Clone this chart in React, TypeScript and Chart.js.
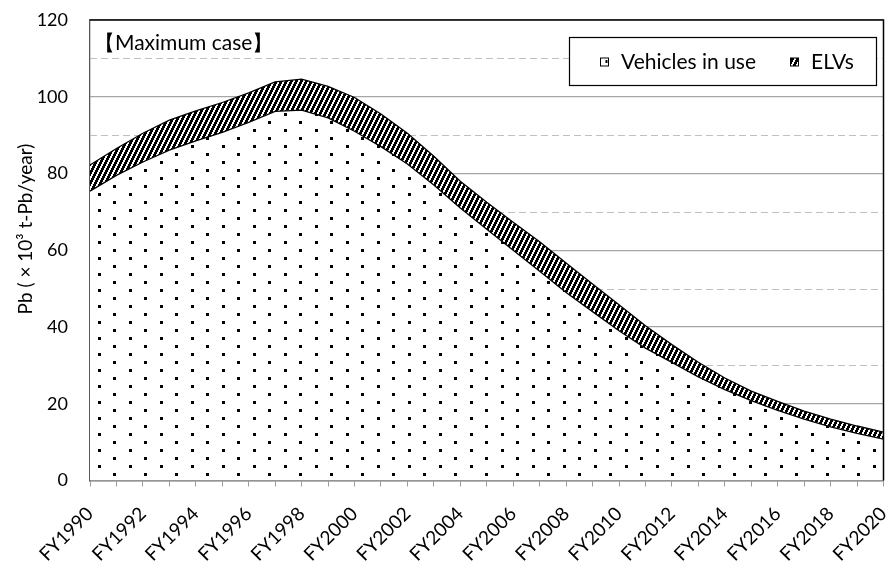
import React, { useEffect, useRef } from 'react';
import { Chart, registerables } from 'chart.js';

Chart.register(...registerables);

const years = [1990, 1991, 1992, 1993, 1994, 1995, 1996, 1997, 1998, 1999, 2000, 2001, 2002, 2003, 2004, 2005, 2006, 2007, 2008, 2009, 2010, 2011, 2012, 2013, 2014, 2015, 2016, 2017, 2018, 2019, 2020];
const categories = years.map((y) => 'FY' + y);

const vehiclesInUse = [75.4, 79.5, 83.0, 86.1, 88.5, 90.7, 93.3, 96.2, 96.5, 94.5, 91.0, 87.0, 82.5, 77.0, 71.0, 65.5, 60.0, 54.5, 49.0, 44.0, 39.0, 34.5, 30.8, 27.0, 23.7, 20.8, 18.3, 16.0, 14.0, 12.3, 10.8];
const elvs = [6.8, 7.0, 7.5, 7.8, 7.8, 7.8, 7.7, 7.7, 8.1, 8.2, 8.8, 8.5, 8.0, 7.5, 7.0, 7.0, 7.3, 7.7, 7.7, 7.2, 6.8, 5.8, 4.6, 3.8, 3.0, 2.5, 2.3, 2.1, 2.0, 1.9, 1.8];

const seriesNames = ['Vehicles in use', 'ELVs'];
const chartTitle = '【Maximum case】';
const yAxisTitle = 'Pb ( × 10³ t-Pb/year)';
const yMin = 0;
const yMax = 120;
const dashedGridValues = [10, 30, 50, 70, 90, 110];

const FONT = 'Lato, "Noto Sans", sans-serif';

function makeDots(): CanvasPattern {
  const c = document.createElement('canvas');
  c.width = 31;
  c.height = 16;
  const x = c.getContext('2d')!;
  x.fillStyle = '#ffffff';
  x.fillRect(0, 0, 31, 16);
  x.fillStyle = '#000000';
  x.fillRect(5, 1, 3, 3);
  x.fillRect(20, 9, 3, 3);
  return x.createPattern(c, 'repeat')!;
}

function makeHatch(): CanvasPattern {
  const c = document.createElement('canvas');
  c.width = 5;
  c.height = 10;
  const x = c.getContext('2d')!;
  const img = x.createImageData(5, 10);
  for (let py = 0; py < 10; py++) {
    for (let px = 0; px < 5; px++) {
      const i = (py * 5 + px) * 4;
      const black = (2 * px + py) % 10 < 6;
      const v = black ? 0 : 255;
      img.data[i] = v;
      img.data[i + 1] = v;
      img.data[i + 2] = v;
      img.data[i + 3] = 255;
    }
  }
  x.putImageData(img, 0, 0);
  return x.createPattern(c, 'repeat')!;
}

const decorPlugin = {
  id: 'decor',
  beforeDatasetsDraw(chart: any) {
    const { ctx, chartArea } = chart;
    const y = chart.scales.y;
    ctx.save();
    ctx.strokeStyle = '#bfbfbf';
    ctx.lineWidth = 1;
    ctx.setLineDash([7, 4]);
    for (const v of dashedGridValues) {
      const py = Math.round(y.getPixelForValue(v)) + 0.5;
      ctx.beginPath();
      ctx.moveTo(chartArea.left, py);
      ctx.lineTo(chartArea.right, py);
      ctx.stroke();
    }
    ctx.restore();
  },
  afterDraw(chart: any) {
    const { ctx, chartArea } = chart;
    ctx.save();
    // top and right border
    ctx.strokeStyle = '#000000';
    ctx.lineWidth = 1.5;
    ctx.beginPath();
    ctx.moveTo(chartArea.left, chartArea.top);
    ctx.lineTo(chartArea.right, chartArea.top);
    ctx.lineTo(chartArea.right, chartArea.bottom);
    ctx.stroke();

    // y axis title
    ctx.save();
    ctx.translate(25.5, 229);
    ctx.rotate(-Math.PI / 2);
    ctx.fillStyle = '#000000';
    ctx.font = '19px ' + FONT;
    ctx.textAlign = 'center';
    ctx.textBaseline = 'middle';
    ctx.fillText(yAxisTitle, 0, 0);
    ctx.restore();

    // title
    ctx.fillStyle = '#000000';
    ctx.font = '21px ' + FONT;
    ctx.textBaseline = 'middle';
    ctx.textAlign = 'left';
    ctx.fillText(chartTitle, chartArea.left + 4, chartArea.top + 23);

    // legend
    const lx = 569.5, ly = 37.5, lw = 307, lh = 48;
    ctx.fillStyle = '#ffffff';
    ctx.fillRect(lx, ly, lw, lh);
    ctx.strokeStyle = '#000000';
    ctx.lineWidth = 1.2;
    ctx.strokeRect(lx, ly, lw, lh);
    const items = chart.data.datasets;
    const iconX = [600.5, 790.5];
    const textX = [621, 811];
    ctx.font = '21px ' + FONT;
    items.forEach((ds: any, i: number) => {
      ctx.fillStyle = ds.backgroundColor;
      ctx.fillRect(iconX[i], 58, 8, 8);
      if (i === 0) {
        ctx.fillStyle = '#000';
        ctx.fillRect(iconX[i] + 5, 60, 2, 3);
      }
      ctx.strokeStyle = '#000';
      ctx.lineWidth = 1;
      ctx.strokeRect(iconX[i], 58, 8, 8);
      ctx.fillStyle = '#000';
      ctx.textBaseline = 'middle';
      ctx.fillText(ds.label, textX[i], 62);
    });
    ctx.restore();
  },
};

export default function App() {
  const ref = useRef<HTMLCanvasElement | null>(null);
  useEffect(() => {
    document.body.style.margin = '0';
    const canvas = ref.current!;
    const chart = new Chart(canvas, {
      type: 'line',
      data: {
        labels: categories,
        datasets: [
          {
            label: seriesNames[0],
            data: vehiclesInUse,
            backgroundColor: makeDots() as any,
            borderColor: '#000000',
            borderWidth: 1.3,
            fill: 'origin',
            pointRadius: 0,
            tension: 0,
          },
          {
            label: seriesNames[1],
            data: elvs,
            backgroundColor: makeHatch() as any,
            borderColor: '#000000',
            borderWidth: 1.3,
            fill: '-1',
            pointRadius: 0,
            tension: 0,
          },
        ],
      },
      options: {
        responsive: false,
        animation: false,
        devicePixelRatio: 1,
        layout: { padding: { top: 20, right: 5.5, left: 0, bottom: 0 } },
        plugins: {
          legend: { display: false },
          tooltip: { enabled: false },
        },
        scales: {
          x: {
            type: 'category',
            offset: false,
            afterFit: (s: any) => {
              s.height = 82.5;
              s.paddingLeft = 0;
              s.paddingRight = 0;
            },
            grid: {
              display: true,
              drawOnChartArea: false,
              drawTicks: true,
              tickLength: 6,
              tickColor: '#9a9a9a',
              tickWidth: 1,
            },
            border: { display: true, color: '#868686', width: 1.5 },
            ticks: {
              autoSkip: false,
              minRotation: 45,
              maxRotation: 45,
              padding: 16,
              color: '#000000',
              font: { family: FONT, size: 19 },
              callback: (_v: any, i: number) => (i % 2 === 0 ? categories[i] : ''),
            },
          },
          y: {
            stacked: true,
            min: yMin,
            max: yMax,
            afterFit: (s: any) => {
              s.width = 90;
              s.paddingTop = 0;
              s.paddingBottom = 0;
            },
            grid: {
              drawTicks: false,
              color: (c: any) => (c.tick && c.tick.value % 20 === 0 ? '#a6a6a6' : 'rgba(0,0,0,0)'),
              lineWidth: 1.3,
            },
            border: { display: true, color: '#595959', width: 1.3 },
            ticks: {
              stepSize: 10,
              padding: 22,
              color: '#000000',
              font: { family: FONT, size: 18 },
              callback: (v: any) => (Number(v) % 20 === 0 ? String(v) : ''),
            },
          },
        },
      },
      plugins: [decorPlugin],
    });
    return () => chart.destroy();
  }, []);
  return (
    <div style={{ width: 889, height: 563 }}>
      <canvas ref={ref} width={889} height={563} style={{ display: 'block', width: 889, height: 563 }} />
    </div>
  );
}
